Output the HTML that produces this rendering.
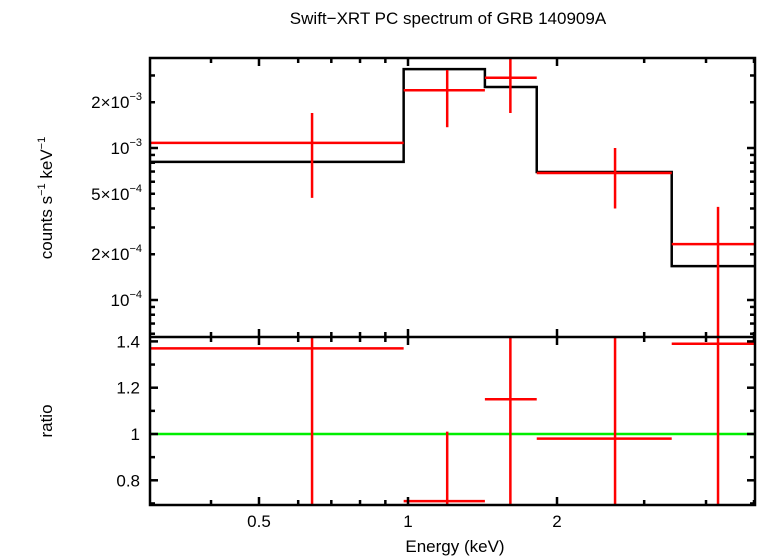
<!DOCTYPE html>
<html><head><meta charset="utf-8"><style>
body{margin:0;background:#fff;}
svg{display:block;font-family:"Liberation Sans",sans-serif;}
</style></head><body>
<svg id="c" width="758" height="556">
<text x="448" y="24" font-size="17" text-anchor="middle">Swift−XRT PC spectrum of GRB 140909A</text>
<g id="g"></g>
</svg>
<script>
const binLo=[0.3,0.98,1.43,1.82,3.41];
const binHi=[0.98,1.43,1.82,3.41,5.02];
const binMid=[0.64,1.2,1.61,2.62,4.23];
const rate=[1.08e-3,2.4e-3,2.9e-3,6.85e-4,2.33e-4];
const rateLo=[4.7e-4,1.37e-3,1.7e-3,4.0e-4,1e-5];
const rateHi=[1.7e-3,3.26e-3,4.5e-3,1e-3,4.1e-4];
const model=[8.1e-4,3.3e-3,2.52e-3,6.95e-4,1.67e-4];
const ratio=[1.37,0.71,1.15,0.98,1.39];
const ratioLo=[0.5,0.5,0.5,0.5,0.5];
const ratioHi=[1.6,1.01,1.6,1.6,1.6];
const xTicks=[0.5,1,2];
const yTopTicks=[1e-4,2e-4,5e-4,1e-3,2e-3];
const yTopLabels=["10","2×10","5×10","10","2×10"];
const yTopExp=["−4","−4","−4","−3","−3"];
const yBotTicks=[0.8,1,1.2,1.4];

const L=150,R=755,T=58,M=337,B=505;
const X=e=>408+495*Math.log10(e);
const YT=v=>148-152*(Math.log10(v)+3);
const YB=v=>434-231.5*(v-1);
const g=document.getElementById('g');
const NS='http://www.w3.org/2000/svg';
function el(tag,attrs,name,parent){const e=document.createElementNS(NS,tag);for(const k in attrs)e.setAttribute(k,attrs[k]);


(parent||g).appendChild(e);return e;}
function ln(x1,y1,x2,y2,c,w,name,p){return el('line',{x1,y1,x2,y2,stroke:c,'stroke-width':w},name,p);}
const clipT=el('clipPath',{id:'ct'},'top-clip');el('rect',{x:L,y:T,width:R-L,height:M-T},'top-clip-rect',clipT);
const clipB=el('clipPath',{id:'cb'},'bottom-clip');el('rect',{x:L,y:M,width:R-L,height:B-M},'bottom-clip-rect',clipB);
const gt=el('g',{'clip-path':'url(#ct)'},'top-panel-marks');
const gb=el('g',{'clip-path':'url(#cb)'},'bottom-panel-marks');
let d='';
for(let i=0;i<model.length;i++){const y=YT(model[i]);d+=(i?'L':'M')+X(binLo[i])+','+y+'L'+X(binHi[i])+','+y;}
el('path',{d,fill:'none',stroke:'#000','stroke-width':2.5},'model-step-line',gt);
for(let i=0;i<rate.length;i++){
ln(X(binLo[i]),YT(rate[i]),X(binHi[i]),YT(rate[i]),'#f00',2.5,'data-bin-'+i,gt);
ln(X(binMid[i]),YT(rateLo[i]),X(binMid[i]),YT(rateHi[i]),'#f00',2.5,'data-error-'+i,gt);
}
ln(L,YB(1),R,YB(1),'#0e0',2.5,'unity-line',gb);
for(let i=0;i<ratio.length;i++){
ln(X(binLo[i]),YB(ratio[i]),X(binHi[i]),YB(ratio[i]),'#f00',2.5,'ratio-bin-'+i,gb);
ln(X(binMid[i]),YB(ratioLo[i]),X(binMid[i]),YB(ratioHi[i]),'#f00',2.5,'ratio-error-'+i,gb);
}
el('rect',{x:L,y:T,width:R-L,height:B-T,fill:'none',stroke:'#000','stroke-width':2.5},'plot-frame');
ln(L,M,R,M,'#000',2.5,'panel-divider');
const minorX=[0.3,0.4,0.6,0.7,0.8,0.9,3,4,5];
[T,M,B].forEach((yy,k)=>{
 xTicks.forEach(t=>{const len=8;if(k!==2)ln(X(t),yy,X(t),yy+len,'#000',2.5,'x-major-tick');if(k!==0)ln(X(t),yy,X(t),yy-len,'#000',2.5,'x-major-tick');});
 minorX.forEach(t=>{if(X(t)<L||X(t)>R)return;const len=5;if(k!==2)ln(X(t),yy,X(t),yy+len,'#000',2.5,'x-minor-tick');if(k!==0)ln(X(t),yy,X(t),yy-len,'#000',2.5,'x-minor-tick');});
});
xTicks.forEach(t=>{const tx=el('text',{x:X(t),y:527,'font-size':17,'text-anchor':'middle'},'x-tick-label');tx.textContent=t;});
for(let dec=-5;dec<=-3;dec++)for(let m=1;m<10;m++){const v=m*Math.pow(10,dec);const y=YT(v);if(y<T||y>M)continue;const len=m===1?8:5;
ln(L,y,L+len,y,'#000',2.5,'y-top-tick');ln(R,y,R-len,y,'#000',2.5,'y-top-tick');}
yTopTicks.forEach((t,i)=>{const tx=el('text',{x:142,y:YT(t)+6,'font-size':17,'text-anchor':'end'},'y-top-tick-label');
tx.innerHTML=yTopLabels[i]+'<tspan dy="-8" font-size="11">'+yTopExp[i]+'</tspan>';});
for(let v=0.7;v<=1.41;v+=0.1){const y=YB(v);const len=Math.abs((v*10)%2)<0.01||Math.abs((v*10)%2-2)<0.01?8:5;
ln(L,y,L+len,y,'#000',2.5,'y-bottom-tick');ln(R,y,R-len,y,'#000',2.5,'y-bottom-tick');}
yBotTicks.forEach(t=>{const tx=el('text',{x:140,y:YB(t)+6,'font-size':17,'text-anchor':'end'},'y-bottom-tick-label');tx.textContent=t;});
const xt=el('text',{x:455,y:552,'font-size':17,'text-anchor':'middle'},'x-axis-title');xt.textContent='Energy (keV)';
const yt=el('text',{transform:'translate(52,198) rotate(-90)','font-size':17,'text-anchor':'middle'},'y-top-axis-title');
yt.innerHTML='counts s<tspan dy="-7" font-size="11">−1</tspan><tspan dy="7"> keV</tspan><tspan dy="-7" font-size="11">−1</tspan>';
const yr=el('text',{transform:'translate(52,421) rotate(-90)','font-size':17,'text-anchor':'middle'},'y-bottom-axis-title');yr.textContent='ratio';
</script>
</body></html>
